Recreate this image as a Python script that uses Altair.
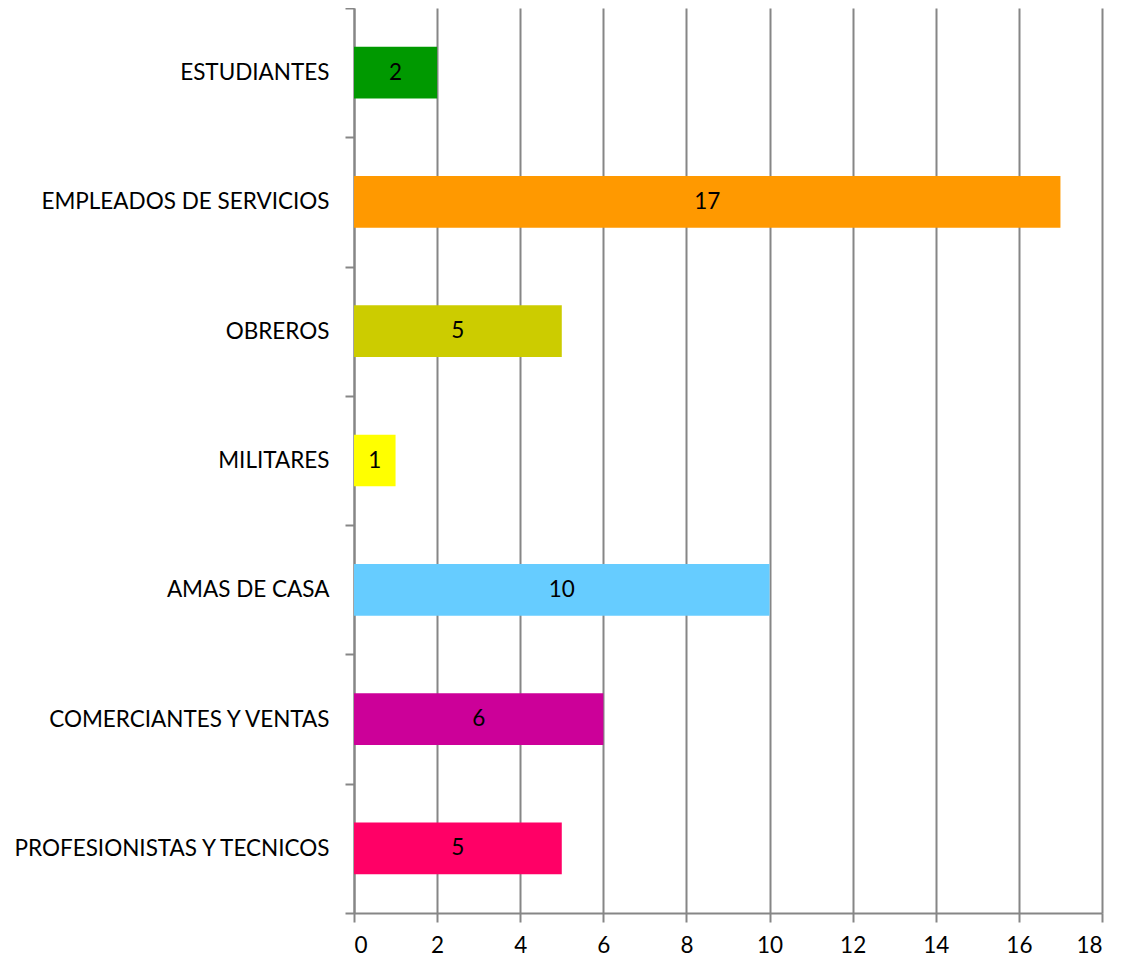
import altair as alt
import pandas as pd

categories = ["ESTUDIANTES", "EMPLEADOS DE SERVICIOS", "OBREROS", "MILITARES",
              "AMAS DE CASA", "COMERCIANTES Y VENTAS", "PROFESIONISTAS Y TECNICOS"]
values = [2, 17, 5, 1, 10, 6, 5]
colors = ["#009900", "#FF9900", "#CCCC00", "#FFFF00", "#66CCFF", "#CC0099", "#FF0066"]

df = pd.DataFrame({"cat": categories, "val": values, "col": colors,
                   "half": [v / 2 for v in values]})

FONT = "Lato"
FS = 22.5
y = alt.Y("cat:N", sort=categories, title=None,
          scale=alt.Scale(paddingInner=0, paddingOuter=0),
          axis=alt.Axis(tickBand="extent", labelFontSize=FS, labelFont=FONT,
                        labelColor="black", labelPadding=16, tickSize=9,
                        tickColor="#868686", domainColor="#868686",
                        tickWidth=2, domainWidth=2, labelLimit=400))

bars = alt.Chart(df).mark_bar(height={"band": 0.4}).encode(
    x=alt.X("val:Q", title=None,
            scale=alt.Scale(domain=[0, 18], nice=False),
            axis=alt.Axis(values=list(range(0, 19, 2)), labelFontSize=FS, labelFont=FONT,
                          labelColor="black", labelPadding=12, tickSize=9,
                          tickColor="#868686", domainColor="#868686",
                          tickWidth=2, domainWidth=2, gridColor="#868686",
                          gridWidth=2, grid=True)),
    y=y,
    color=alt.Color("col:N", scale=None),
)

text = alt.Chart(df).mark_text(fontSize=FS, font=FONT, color="black").encode(
    x="half:Q", y=alt.Y("cat:N", sort=categories), text="val:Q")

chart = (bars + text).properties(
    width=748, height=905,
    autosize=alt.AutoSizeParams(type="none"),
    padding={"left": 346, "top": 0, "right": 10, "bottom": 50},
).configure_view(stroke=None)

chart.save("out.html", embed_options={"renderer": "svg", "actions": False})
